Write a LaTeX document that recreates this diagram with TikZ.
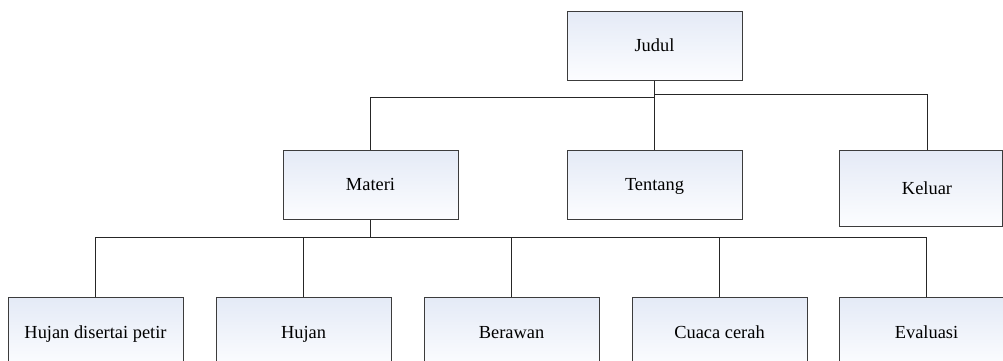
\documentclass[tikz,border=0pt]{standalone}
\usepackage{fontspec}
\setmainfont{Liberation Serif}
\usetikzlibrary{shadows}
\definecolor{boxtop}{RGB}{228,234,246}
\definecolor{boxbot}{RGB}{252,253,255}
\definecolor{edge}{RGB}{60,60,60}
\tikzset{
  x=1pt, y=-1pt,
  box/.style={rectangle, draw=edge, line width=1pt, top color=boxtop, bottom color=boxbot,
    minimum width=175pt, minimum height=69pt, inner sep=0pt,
    text height=15pt, text depth=3pt,
    drop shadow={shadow xshift=1.2pt, shadow yshift=-1.2pt, fill=gray!70, opacity=1},
    font=\fontsize{18.4}{22}\selectfont},
  lbl/.style={inner sep=0pt, text height=15pt, text depth=3pt, font=\fontsize{18.4}{22}\selectfont},
  conn/.style={draw=black!85, line width=1pt}
}
\begin{document}
\begin{tikzpicture}
\useasboundingbox (0,0) rectangle (1003,360);
\fill[white] (0,0) rectangle (1003,360);
\clip (0,0) rectangle (1003,360);
% top
\node[box] (judul) at (654.5,45.5) {Judul};
% middle row
\node[box] (materi) at (370.5,184.5) {Materi};
\node[box] (tentang) at (654.5,184.5) {Tentang};
\node[box, minimum width=163pt, minimum height=76pt] (keluar) at (920.5,188) {};
\node[lbl] (keluartext) at (927,188) {Keluar};
% bottom row
\node[box] (b1) at (95.5,332) {Hujan disertai petir};
\node[box] (b2) at (303.5,332) {Hujan};
\node[box] (b3) at (511.5,332) {Berawan};
\node[box] (b4) at (719.5,332) {Cuaca cerah};
\node[box] (b5) at (926.5,332) {Evaluasi};
% connectors top
\coordinate (jl) at (654.5,97);
\coordinate (jr) at (654.5,94);
\coordinate (ktop) at (927,150);
\draw[conn] (judul.south) -- (tentang.north);
\draw[conn] (jl) -| (materi.north);
\draw[conn] (jr) -| (ktop);
% connectors bottom
\coordinate (mb) at (370.5,237);
\draw[conn] (materi.south) -- (mb);
\draw[conn] (mb) -| (b1.north);
\draw[conn] (mb) -| (b2.north);
\draw[conn] (mb) -| (b3.north);
\draw[conn] (mb) -| (b4.north);
\draw[conn] (mb) -| (b5.north);
\end{tikzpicture}
\end{document}
